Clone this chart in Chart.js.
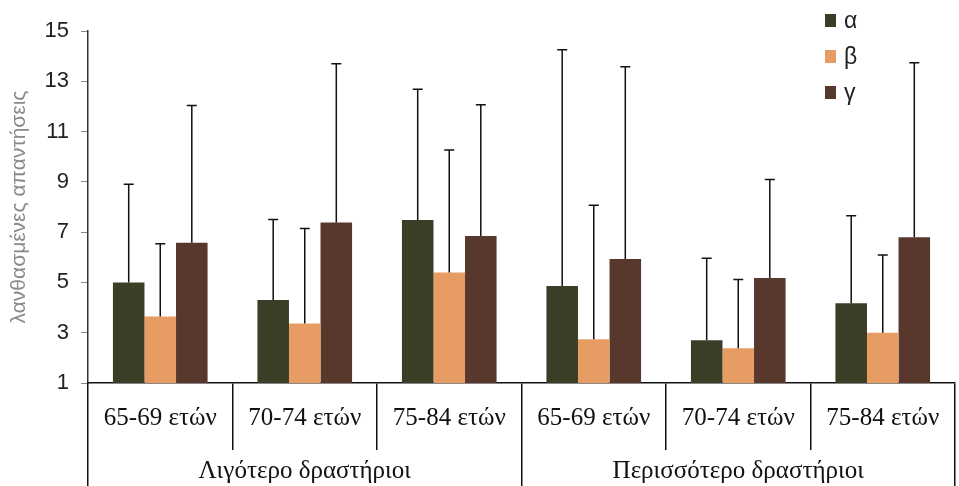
<!DOCTYPE html>
<html>
<head>
<meta charset="utf-8">
<script src="https://cdn.jsdelivr.net/npm/chart.js@4"></script>
<style>
  html, body { margin: 0; padding: 0; background: #fff; }
  #wrap { position: relative; width: 959px; height: 486px; }
  #legend { position: absolute; left: 825px; top: 2px; font-family: "Liberation Sans", Arial, sans-serif; font-size: 23px; color: #222; }
  #legend div { height: 36px; display: flex; align-items: center; }
  #legend span.box { display: inline-block; width: 11px; height: 13px; margin-right: 8px; }
</style>
</head>
<body>
<div id="wrap">
  <canvas id="errChart" width="959" height="486"></canvas>
  <div id="legend"></div>
</div>
<script>
var categories = ['65-69 ετών', '70-74 ετών', '75-84 ετών', '65-69 ετών', '70-74 ετών', '75-84 ετών'];
var groups = ['Λιγότερο δραστήριοι', 'Περισσότερο δραστήριοι'];
var seriesNames = ['α', 'β', 'γ'];
var alphaValues = [5.0, 4.3, 7.48, 4.86, 2.7, 4.17];
var betaValues = [3.64, 3.37, 5.39, 2.74, 2.38, 3.0];
var gammaValues = [6.58, 7.38, 6.85, 5.93, 5.18, 6.8];
// upper end of each error bar
var alphaErr = [8.9, 7.5, 12.68, 14.25, 5.96, 7.65];
var betaErr = [6.54, 7.14, 10.27, 8.07, 5.12, 6.09];
var gammaErr = [12.04, 13.7, 12.07, 13.58, 9.09, 13.74];
var yTicks = [1, 3, 5, 7, 9, 11, 13, 15];

var colors = ['#3c3d26', '#e79c63', '#58372d'];
var errors = [alphaErr, betaErr, gammaErr];

var errorBars = {
    id: 'errorBars',
    afterDatasetsDraw: function(chart) {
        var ctx = chart.ctx;
        var yScale = chart.scales.y;
        ctx.save();
        ctx.strokeStyle = '#111';
        ctx.lineWidth = 1.5;
        chart.data.datasets.forEach(function(ds, i) {
            var meta = chart.getDatasetMeta(i);
            meta.data.forEach(function(bar, j) {
                var top = yScale.getPixelForValue(errors[i][j]);
                ctx.beginPath();
                ctx.moveTo(bar.x, bar.y);
                ctx.lineTo(bar.x, top);
                ctx.moveTo(bar.x - 5, top);
                ctx.lineTo(bar.x + 5, top);
                ctx.stroke();
            });
        });
        ctx.restore();
    }
};

var errChart = new Chart(document.getElementById('errChart'), {
    type: 'bar',
    data: {
        labels: categories,
        datasets: [
            { label: seriesNames[0], data: alphaValues, backgroundColor: colors[0] },
            { label: seriesNames[1], data: betaValues, backgroundColor: colors[1] },
            { label: seriesNames[2], data: gammaValues, backgroundColor: colors[2] }
        ]
    },
    options: {
        responsive: false,
        animation: false,
        layout: { padding: { top: 31, right: 4, left: 0, bottom: 0 } },
        datasets: { bar: { barPercentage: 1, categoryPercentage: 0.655, borderWidth: 0 } },
        plugins: { legend: { display: false }, tooltip: { enabled: false } },
        scales: {
            y: {
                min: 1,
                max: 15,
                afterBuildTicks: function(scale) {
                    scale.ticks = yTicks.map(function(v) { return { value: v }; });
                },
                afterFit: function(scale) { scale.width = 88; },
                ticks: { color: '#222', padding: 12, font: { family: 'Liberation Sans', size: 22 } },
                grid: { drawOnChartArea: false, drawTicks: true, tickLength: 7, color: '#888' },
                border: { color: '#333', width: 1.5 },
                title: {
                    display: true,
                    text: 'λανθασμένες απαντήσεις',
                    color: '#8a8a8a',
                    padding: 7,
                    font: { family: 'Liberation Sans', size: 21 }
                }
            },
            x: {
                offset: true,
                afterFit: function(scale) { scale.height = 67; },
                ticks: { color: '#111', padding: -47, maxRotation: 0, autoSkip: false, font: { family: 'Liberation Serif', size: 25 } },
                grid: { offset: true, drawOnChartArea: false, drawTicks: true, tickLength: 67, color: '#111', lineWidth: 1.5 },
                border: { color: '#111', width: 1.5 }
            },
            x2: {
                type: 'category',
                position: 'bottom',
                labels: groups,
                offset: true,
                afterFit: function(scale) { scale.height = 36; },
                ticks: { color: '#111', padding: -30, maxRotation: 0, autoSkip: false, font: { family: 'Liberation Serif', size: 25 } },
                grid: { offset: true, drawOnChartArea: false, drawTicks: true, tickLength: 36, color: '#111', lineWidth: 1.5 },
                border: { display: false }
            }
        }
    },
    plugins: [errorBars]
});

var legendEl = document.getElementById('legend');
errChart.data.datasets.forEach(function(ds) {
    var row = document.createElement('div');
    var box = document.createElement('span');
    box.className = 'box';
    box.style.background = ds.backgroundColor;
    row.appendChild(box);
    row.appendChild(document.createTextNode(ds.label));
    legendEl.appendChild(row);
});
</script>
</body>
</html>
